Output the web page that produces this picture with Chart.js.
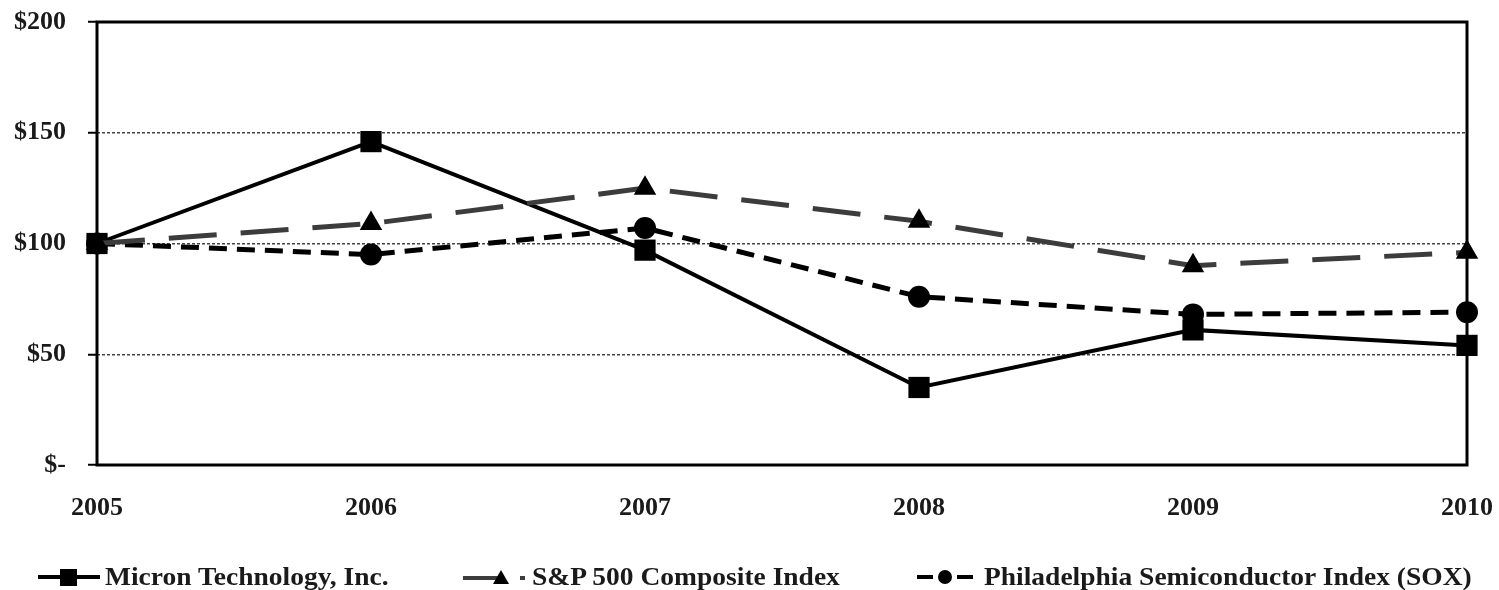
<!DOCTYPE html>
<html>
<head>
<meta charset="utf-8">
<script src="https://cdn.jsdelivr.net/npm/chart.js@4.4.0/dist/chart.umd.min.js"></script>
<style>
  html, body { margin: 0; padding: 0; background: #fff; }
  #wrap { position: relative; width: 1499px; height: 590px; }
  #chart { position: absolute; left: 0; top: 0; }
  .leg { position: absolute; top: 562px; height: 30px; display: flex; align-items: center;
         font-family: "Liberation Serif", "DejaVu Serif", serif; font-weight: bold; font-size: 25px; color: #1a1a1a; white-space: nowrap; }
  .leg svg { margin-right: 5px; }
  .leg span { display: inline-block; transform: scaleX(1.1); transform-origin: left center; }
</style>
</head>
<body>
<div id="wrap">
  <canvas id="chart" width="1499" height="590"></canvas>
  <div class="leg" style="left:38px">
    <svg width="62" height="20"><line x1="0" y1="10" x2="62" y2="10" stroke="#000" stroke-width="4"/><rect x="22" y="2" width="17" height="17" fill="#000"/></svg>
    <span>Micron Technology, Inc.</span>
  </div>
  <div class="leg" style="left:463px">
    <svg width="64" height="20"><line x1="0" y1="11" x2="36" y2="11" stroke="#3c3c3c" stroke-width="4"/><polygon points="38,3 46,17 30,17" fill="#000"/><line x1="57" y1="11" x2="62" y2="11" stroke="#3c3c3c" stroke-width="4"/></svg>
    <span>S&amp;P 500 Composite Index</span>
  </div>
  <div class="leg" style="left:917px">
    <svg width="62" height="20"><line x1="0" y1="10" x2="16" y2="10" stroke="#000" stroke-width="4"/><circle cx="28" cy="10" r="7" fill="#000"/><line x1="40" y1="10" x2="56" y2="10" stroke="#000" stroke-width="4"/></svg>
    <span>Philadelphia Semiconductor Index (SOX)</span>
  </div>
</div>
<script>
const years = ['2005', '2006', '2007', '2008', '2009', '2010'];
const micron = [100, 146, 97, 35, 61, 54];
const sp500 = [100, 109, 125, 110, 90, 96];
const sox = [100, 95, 107, 76, 68, 69];
const yTicks = [0, 50, 100, 150, 200];

const serif = '"Liberation Serif", "DejaVu Serif", serif';

// solid frame round the plot area (top and right edges)
const frame = {
    id: 'frame',
    beforeDatasetsDraw(chart) {
        const a = chart.chartArea;
        const c = chart.ctx;
        c.save();
        c.strokeStyle = '#000';
        c.lineWidth = 3;
        c.strokeRect(a.left, a.top, a.right - a.left, a.bottom - a.top);
        c.restore();
    }
};

const ctx = document.getElementById('chart').getContext('2d');
new Chart(ctx, {
    type: 'line',
    data: {
        labels: years,
        datasets: [{
            label: 'S&P 500 Composite Index',
            data: sp500,
            borderColor: '#3c3c3c',
            borderWidth: 5,
            borderDash: [48, 24],
            pointStyle: 'triangle',
            pointRadius: 13,
            pointBackgroundColor: '#000',
            pointBorderColor: '#000',
            pointBorderWidth: 0,
            tension: 0
        }, {
            label: 'Philadelphia Semiconductor Index (SOX)',
            data: sox,
            borderColor: '#000',
            borderWidth: 5,
            borderDash: [18, 10],
            pointStyle: 'circle',
            pointRadius: 11,
            pointBackgroundColor: '#000',
            pointBorderColor: '#000',
            pointBorderWidth: 0,
            tension: 0
        }, {
            label: 'Micron Technology, Inc.',
            data: micron,
            borderColor: '#000',
            borderWidth: 4,
            pointStyle: 'rect',
            pointRadius: 15,
            pointBackgroundColor: '#000',
            pointBorderColor: '#000',
            pointBorderWidth: 0,
            tension: 0
        }]
    },
    options: {
        responsive: false,
        animation: false,
        events: [],
        layout: { padding: { top: 22, right: 32, left: 0, bottom: 0 } },
        plugins: {
            legend: { display: false },
            tooltip: { enabled: false }
        },
        scales: {
            x: {
                offset: false,
                grid: { display: false, drawTicks: false },
                border: { display: false },
                ticks: {
                    padding: 28,
                    color: '#1a1a1a',
                    font: { family: serif, weight: 'bold', size: 26 },
                    maxRotation: 0
                },
                afterFit(s) { s.height = 125; s.paddingLeft = 0; s.paddingRight = 0; }
            },
            y: {
                min: 0,
                max: 200,
                afterBuildTicks(s) { s.ticks = yTicks.map(v => ({ value: v })); },
                grid: {
                    color: '#444',
                    lineWidth: 1.5,
                    drawTicks: true,
                    tickLength: 9,
                    tickColor: '#000',
                    tickWidth: 2
                },
                border: { display: false, dash: [3, 2] },
                ticks: {
                    padding: 22,
                    color: '#1a1a1a',
                    font: { family: serif, weight: 'bold', size: 26 },
                    callback: v => v === 0 ? '$-' : '$' + v
                },
                afterFit(s) { s.width = 97; s.paddingTop = 0; s.paddingBottom = 0; }
            }
        }
    },
    plugins: [frame]
});
</script>
</body>
</html>
